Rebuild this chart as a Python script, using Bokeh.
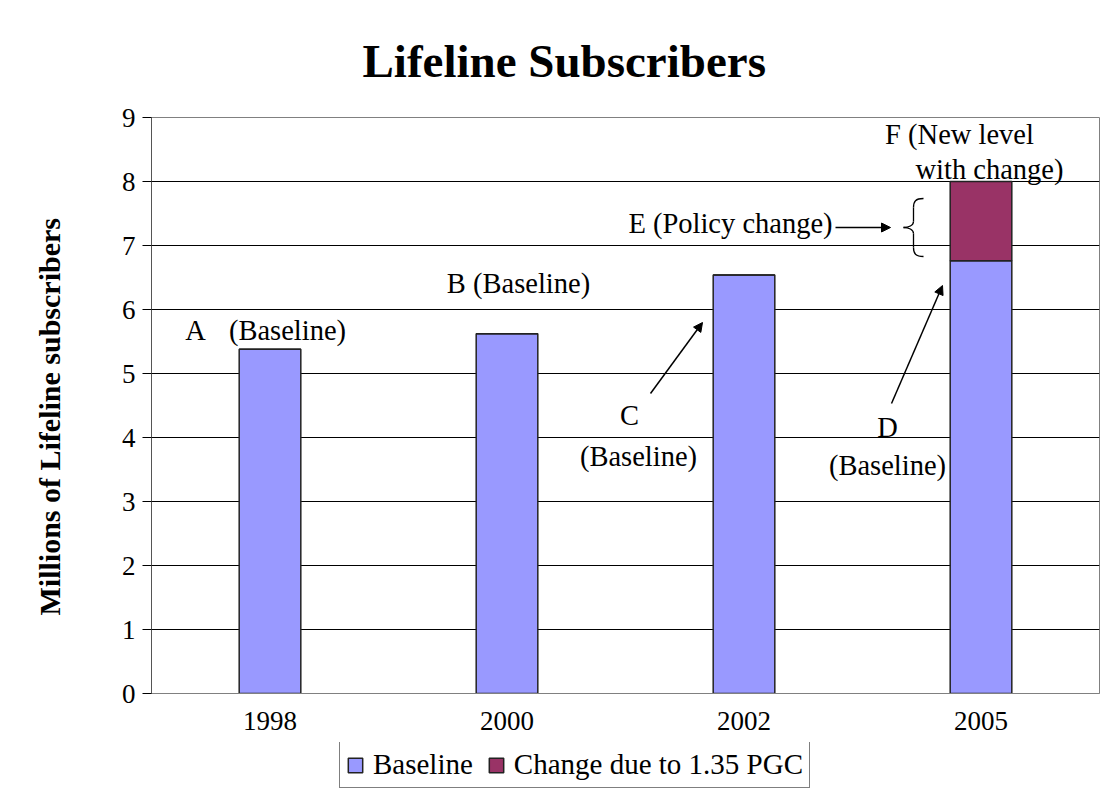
from bokeh.plotting import figure
from bokeh.layouts import column
from bokeh.models import (ColumnDataSource, FactorRange, Range1d, FixedTicker, Legend, LegendItem,
                          Arrow, NormalHead, Title)
from bokeh.core.properties import value
from bokeh.embed import file_html
from bokeh.resources import INLINE

# ---- data ----
years = ["1998", "2000", "2002", "2005"]
baseline = [5.38, 5.62, 6.54, 6.76]
change = [0.0, 0.0, 0.0, 1.24]
series_names = ["Baseline", "Change due to 1.35 PGC"]
y_ticks = [0, 1, 2, 3, 4, 5, 6, 7, 8, 9]

FONT = "Liberation Serif"
BASE_COLOR = "#9999FF"
CHANGE_COLOR = "#993366"
EDGE = "#222222"

src = ColumnDataSource(dict(year=years, baseline=baseline, change=change))

p = figure(x_range=FactorRange(*years), y_range=Range1d(0, 9),
           width=1102, height=742, output_backend="svg", toolbar_location=None,
           min_border_left=151, min_border_right=3, min_border_top=117, min_border_bottom=49)

rs = p.vbar_stack(["baseline", "change"], x="year", width=0.26, source=src,
                  fill_color=[BASE_COLOR, CHANGE_COLOR], line_color=EDGE, line_width=1.5)

# axes
p.yaxis.ticker = FixedTicker(ticks=y_ticks)
p.yaxis.axis_label = "Millions of Lifeline subscribers\u00a0\u00a0\u00a0"
p.yaxis.axis_label_text_font = FONT
p.yaxis.axis_label_text_font_style = "bold"
p.yaxis.axis_label_text_font_size = "30px"
p.yaxis.axis_label_text_color = "black"
p.yaxis.axis_label_standoff = 53
p.yaxis.major_label_text_font = FONT
p.yaxis.major_label_text_font_size = "27px"
p.yaxis.major_label_text_color = "black"
p.yaxis.major_tick_out = 9
p.yaxis.major_tick_in = 0
p.yaxis.minor_tick_out = 0
p.yaxis.minor_tick_in = 0
p.yaxis.major_label_standoff = 7
p.yaxis.axis_line_color = "#555555"
p.yaxis.major_tick_line_color = "black"

p.xaxis.major_label_text_font = FONT
p.xaxis.major_label_text_font_size = "27px"
p.xaxis.major_label_text_color = "black"
p.xaxis.major_tick_out = 0
p.xaxis.major_tick_in = 0
p.xaxis.major_label_standoff = 18
p.xaxis.axis_line_color = "#808080"

p.xgrid.grid_line_color = None
p.ygrid.ticker = FixedTicker(ticks=y_ticks[1:-1])
p.ygrid.grid_line_color = "black"
p.ygrid.grid_line_width = 1
p.outline_line_color = "#808080"
p.outline_line_width = 1
p.background_fill_color = "white"
p.border_fill_color = "white"

# title
p.title = Title(text="Lifeline Subscribers", text_font=FONT, text_font_style="bold",
                text_font_size="47px", text_color="black", align="left", offset=211, standoff=62)

# ---- annotations (pixel -> data helpers based on frame geometry) ----
PX_X = 1 / 237.0   # one category per 237 px
PX_Y = 1 / 64.0    # one unit per 64 px

def dx(px):  # pixel x -> synthetic categorical coordinate
    return (px - 151) * PX_X

def dy(py):  # pixel y -> value
    return (693 - py) * PX_Y

ann_text = ["A", "(Baseline)", "B (Baseline)", "C", "(Baseline)", "D", "(Baseline)",
            "E (Policy change)", "F (New level", "with change)"]
ann_px = [(195, 330), (287, 330), (518, 283), (629, 415), (638, 456), (887, 427), (887, 465),
          (730, 223), (959, 134), (989, 169)]
ann = ColumnDataSource(dict(x=[dx(a[0]) for a in ann_px], y=[dy(a[1]) for a in ann_px], t=ann_text))
p.text(x="x", y="y", text="t", source=ann, text_font=value(FONT), text_font_size="28.5px",
       text_align="center", text_baseline="middle", text_color="black")

arrows_px = [((650, 393), (702, 322)), ((891, 403), (942, 285)), ((835, 227), (890, 227))]
for (x0, y0), (x1, y1) in arrows_px:
    p.add_layout(Arrow(end=NormalHead(size=9, fill_color="black", line_color="black"),
                       x_start=dx(x0), y_start=dy(y0), x_end=dx(x1), y_end=dy(y1),
                       line_color="black", line_width=1.5))

# curly brace next to the change segment
bz = dict(x0=[], y0=[], x1=[], y1=[], cx0=[], cy0=[], cx1=[], cy1=[])
curves = [((923, 198), (913, 207), (915, 198), (913, 201)),
          ((913, 221), (903, 227), (913, 225), (908, 227)),
          ((903, 227), (913, 233), (908, 227), (913, 229)),
          ((913, 247), (923, 256), (913, 253), (915, 256))]
for a, b, c0, c1 in curves:
    bz["x0"].append(dx(a[0])); bz["y0"].append(dy(a[1]))
    bz["x1"].append(dx(b[0])); bz["y1"].append(dy(b[1]))
    bz["cx0"].append(dx(c0[0])); bz["cy0"].append(dy(c0[1]))
    bz["cx1"].append(dx(c1[0])); bz["cy1"].append(dy(c1[1]))
p.bezier(x0="x0", y0="y0", x1="x1", y1="y1", cx0="cx0", cy0="cy0", cx1="cx1", cy1="cy1",
         source=ColumnDataSource(bz), line_color="black", line_width=1.3)
p.segment(x0=[dx(913), dx(913)], y0=[dy(207), dy(233)], x1=[dx(913), dx(913)], y1=[dy(221), dy(247)],
          line_color="black", line_width=1.3)

# ---- legend strip under the chart (swatch glyphs are tiny and hidden behind the legend box) ----
p2 = figure(width=1102, height=46, x_range=Range1d(0, 1), y_range=Range1d(0, 1),
            output_backend="svg", toolbar_location=None, min_border=0,
            x_axis_location=None, y_axis_location=None, outline_line_color=None)
p2.grid.visible = False
p2.border_fill_color = "white"
g1 = p2.vbar(x=[0.3], bottom=[0.4], top=[0.6], width=0.005, fill_color=BASE_COLOR,
             line_color=EDGE, line_width=1.5)
g2 = p2.vbar(x=[0.3], bottom=[0.4], top=[0.6], width=0.005, fill_color=CHANGE_COLOR,
             line_color=EDGE, line_width=1.5)
legend = Legend(items=[LegendItem(label=series_names[0], renderers=[g1]),
                       LegendItem(label=series_names[1], renderers=[g2])],
                orientation="horizontal", location=(188, 0),
                label_text_font=FONT, label_text_font_size="29px", label_text_color="black",
                glyph_width=18, glyph_height=18, label_standoff=9, spacing=14,
                padding=6, margin=0, border_line_color="black", border_line_width=1,
                background_fill_color="white", background_fill_alpha=1.0,
                label_height=29)
p2.add_layout(legend, "center")

open("out.html", "w").write(file_html(column(p, p2, spacing=0), INLINE))
